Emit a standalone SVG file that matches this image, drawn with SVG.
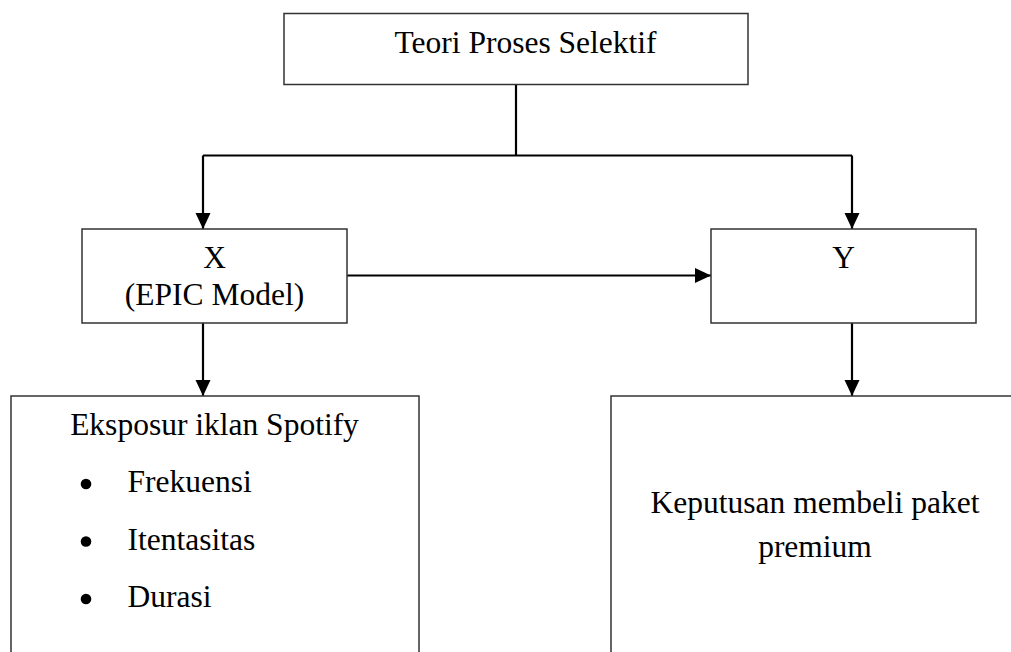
<svg xmlns="http://www.w3.org/2000/svg" width="1011" height="652" viewBox="0 0 1011 652">
<style>
.box{fill:#fff;stroke:#333;stroke-width:1.5}
.t{font-family:"Liberation Serif","Times New Roman",serif;font-size:31.5px;fill:#000}
.m{text-anchor:middle}
.c{fill:none;stroke:#000;stroke-width:2.2}
</style>
<defs>
<marker id="ah" markerUnits="userSpaceOnUse" markerWidth="16" markerHeight="16" refX="16" refY="7.5" orient="auto">
<path d="M0,0 L16,7.5 L0,15 Z" fill="#000"/>
</marker>
</defs>
<rect width="1011" height="652" fill="#fff"/>
<g id="connectors">
<polyline class="c" points="516,85 516,155.5"/>
<polyline class="c" points="203,155.5 852,155.5"/>
<polyline class="c" points="203,155.5 203,229" marker-end="url(#ah)"/>
<polyline class="c" points="852,155.5 852,229" marker-end="url(#ah)"/>
<polyline class="c" points="347,275.5 711,275.5" marker-end="url(#ah)"/>
<polyline class="c" points="203,323 203,396" marker-end="url(#ah)"/>
<polyline class="c" points="852,323 852,396" marker-end="url(#ah)"/>
</g>
<g id="teori">
<rect class="box" x="284" y="13.5" width="464" height="71"/>
<text class="t m" x="525.5" y="53">Teori Proses Selektif</text>
</g>
<g id="x">
<rect class="box" x="82" y="229" width="265" height="94"/>
<text class="t m" x="214.5" y="268">X</text>
<text class="t m" x="214.5" y="305">(EPIC Model)</text>
</g>
<g id="y">
<rect class="box" x="711" y="229" width="265" height="94"/>
<text class="t m" x="843.5" y="268">Y</text>
</g>
<g id="eksposur">
<rect class="box" x="11" y="396" width="408" height="280"/>
<text class="t m" x="214.5" y="435">Eksposur iklan Spotify</text>
<circle cx="86" cy="484" r="5.3"/>
<circle cx="86" cy="541.5" r="5.3"/>
<circle cx="86" cy="599" r="5.3"/>
<text class="t" x="127.5" y="491.5">Frekuensi</text>
<text class="t" x="127.5" y="550">Itentasitas</text>
<text class="t" x="127.5" y="607">Durasi</text>
</g>
<g id="keputusan">
<rect class="box" x="611" y="396" width="420" height="280"/>
<text class="t m" x="815" y="513">Keputusan membeli paket</text>
<text class="t m" x="815" y="557">premium</text>
</g>
</svg>
